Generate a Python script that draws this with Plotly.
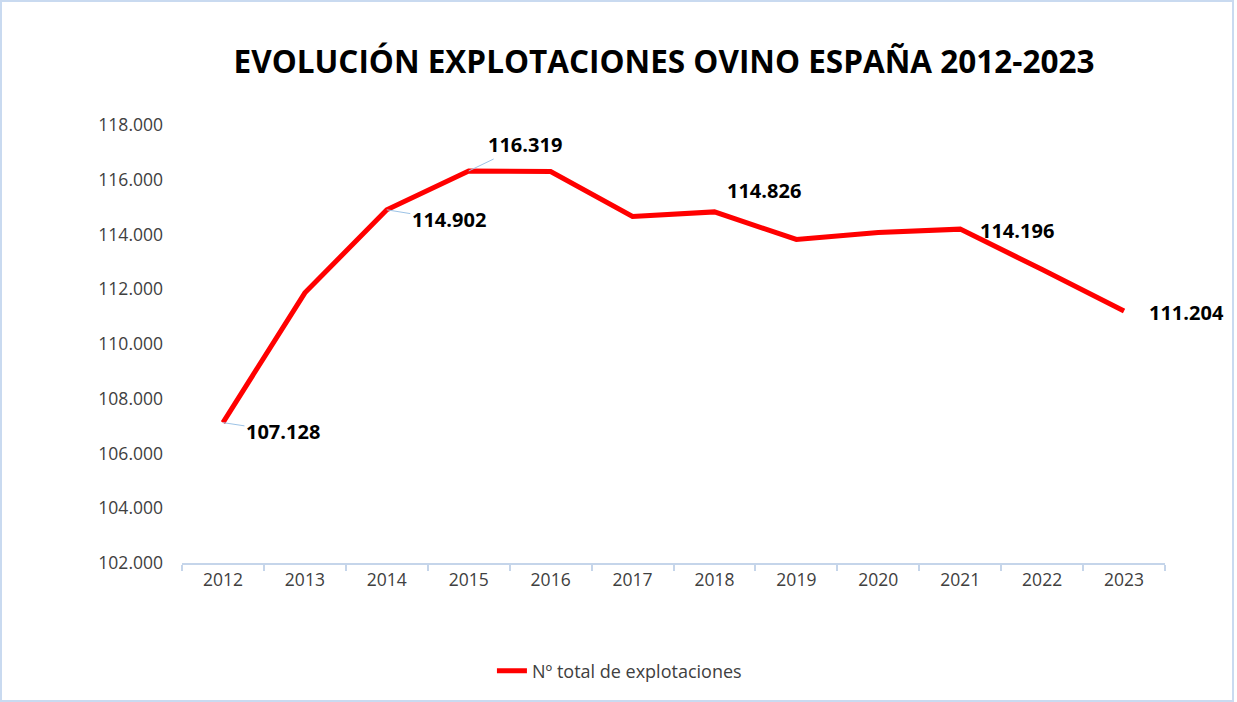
import plotly.graph_objects as go

years = ["2012", "2013", "2014", "2015", "2016", "2017",
         "2018", "2019", "2020", "2021", "2022", "2023"]
explotaciones = [107128, 111870, 114902, 116319, 116300, 114660,
                 114826, 113820, 114070, 114196, 112720, 111204]

# labelled points: (year, x offset, y offset, leader line)
labelled = [
    ("2012", 60, 9, True),
    ("2014", 62, 10, True),
    ("2015", 56, -27, True),
    ("2018", 50, -21, False),
    ("2021", 57, 1, False),
    ("2023", 62, 1, False),
]

W, H = 1237, 702
ML, MR, MT, MB = 182, 72, 125, 139
PW, PH = W - ML - MR, H - MT - MB
FONT = "Open Sans, DejaVu Sans, sans-serif"


def fmt(v):
    return f"{v:,}".replace(",", ".")


fig = go.Figure()

fig.add_trace(go.Scatter(
    x=years,
    y=explotaciones,
    mode="lines",
    line=dict(color="#FF0000", width=5),
    name="Nº total de explotaciones",
))

for year, dx, dy, leader in labelled:
    i = years.index(year)
    v = explotaciones[i]
    fig.add_annotation(
        x=i, y=v, xref="x", yref="y",
        text=f"<b>{fmt(v)}</b>",
        showarrow=True,
        arrowhead=0,
        arrowwidth=1,
        arrowcolor="#9DC3E6" if leader else "rgba(0,0,0,0)",
        ax=dx, ay=dy,
        standoff=0,
        font=dict(size=20, color="#000000", family=FONT),
    )

# outer frame of the chart area
fig.add_shape(
    type="rect", xref="paper", yref="paper",
    x0=-(ML - 1) / PW, x1=1 + (MR - 4) / PW,
    y0=-(MB - 1) / PH, y1=1 + (MT - 1) / PH,
    line=dict(color="#C9DAF0", width=2),
    fillcolor="rgba(0,0,0,0)",
    layer="below",
)

fig.update_layout(
    title=dict(
        text="<b>EVOLUCIÓN EXPLOTACIONES OVINO ESPAÑA 2012-2023</b>",
        x=(664 / W), xanchor="center",
        y=1 - 62 / H, yanchor="middle",
        font=dict(size=31.5, color="#000000", family=FONT),
    ),
    width=W,
    height=H,
    margin=dict(l=ML, r=MR, t=MT, b=MB),
    plot_bgcolor="white",
    paper_bgcolor="white",
    separators=",.",
    font=dict(family=FONT, size=17.5, color="#404040"),
    showlegend=True,
    legend=dict(
        orientation="h",
        x=0.445, xanchor="center",
        y=-(671 - MT - PH) / PH, yanchor="middle",
        font=dict(size=18, color="#404040"),
    ),
    xaxis=dict(
        type="category",
        range=[-0.5, 11.5],
        showline=True,
        linecolor="#C5D5EA",
        linewidth=2,
        ticks="outside",
        tickson="boundaries",
        ticklen=6,
        tickcolor="#C5D5EA",
        tickwidth=2,
        showgrid=False,
        tickfont=dict(size=17.5, color="#404040"),
    ),
    yaxis=dict(
        range=[102000, 118000],
        dtick=2000,
        tickformat=",",
        showgrid=False,
        showline=False,
        zeroline=False,
        ticks="",
        ticklabelstandoff=18,
        tickfont=dict(size=17.5, color="#404040"),
    ),
)

fig.write_html(
    "out.html",
    config={"displayModeBar": False},
    post_script="document.body.style.margin='0';",
)
